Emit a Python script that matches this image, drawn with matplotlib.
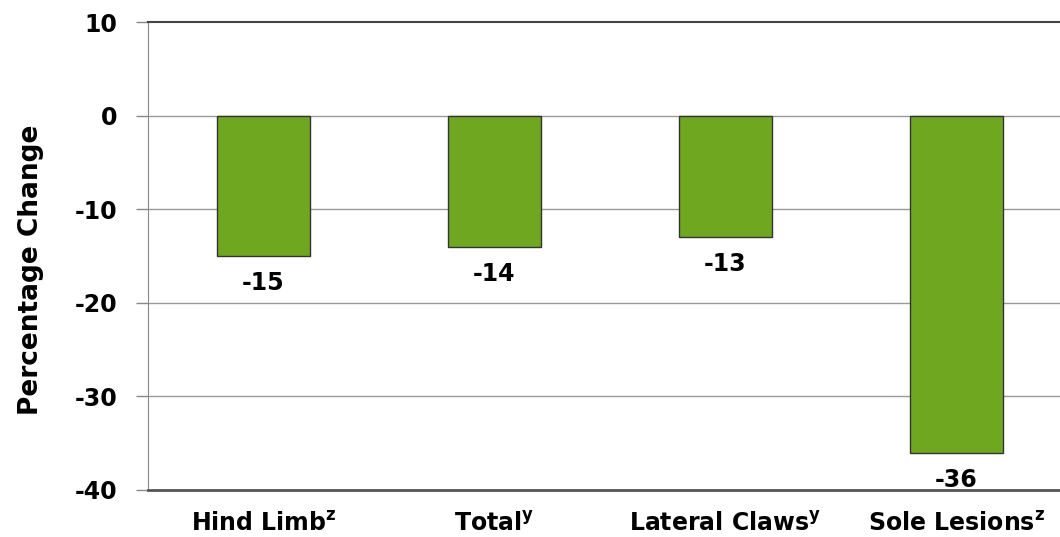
import numpy as np
import matplotlib.pyplot as plt

plt.rcParams['font.family'] = ['DejaVu Sans']
plt.rcParams['font.weight'] = 'bold'
plt.rcParams['axes.unicode_minus'] = False
plt.rcParams['mathtext.fontset'] = 'custom'
plt.rcParams['mathtext.rm'] = 'DejaVu Sans:bold'
plt.rcParams['mathtext.bf'] = 'DejaVu Sans:bold'

# data
categories = ["Hind Limb", "Total", "Lateral Claws", "Sole Lesions"]
markers = ["z", "y", "y", "z"]
values = [-15, -14, -13, -36]

fig = plt.figure(figsize=(10.6, 5.37), dpi=100)
ax = fig.add_axes([148/1060, 47/537, 924/1060, 468/537])

x = np.arange(len(categories))
ax.bar(x, values, width=0.4, color="#6fa820", edgecolor="#333333", linewidth=1, zorder=3)

for xi, v in zip(x, values):
    ax.text(xi, v - 1.6, str(v), ha="center", va="top", fontsize=17, fontweight="bold")

ax.set_xlim(-0.5, 3.5)
ax.set_ylim(-40, 10)
ax.set_yticks([10, 0, -10, -20, -30, -40])
ax.set_xticks(x)
ax.set_xticklabels([r"$\mathrm{%s}^{\mathrm{%s}}$" % (c.replace(" ", r"\ "), m) for c, m in zip(categories, markers)],
                   fontsize=17)
ax.tick_params(axis="x", length=0, pad=16)
ax.tick_params(axis="y", length=9, width=1, color="#888888", pad=13, labelsize=17)

for g in [0, -10, -20, -30]:
    ax.axhline(g, color="#999999", linewidth=1, zorder=1)

ax.spines["top"].set_color("#444444")
ax.spines["top"].set_linewidth(1.5)
ax.spines["bottom"].set_color("#555555")
ax.spines["bottom"].set_linewidth(2)
ax.spines["left"].set_color("#888888")
ax.spines["right"].set_visible(False)

ax.set_ylabel("Percentage Change", fontsize=19, fontweight="bold")
ax.yaxis.set_label_coords(-0.113, 0.47)

fig.savefig("out.png", dpi=100)
